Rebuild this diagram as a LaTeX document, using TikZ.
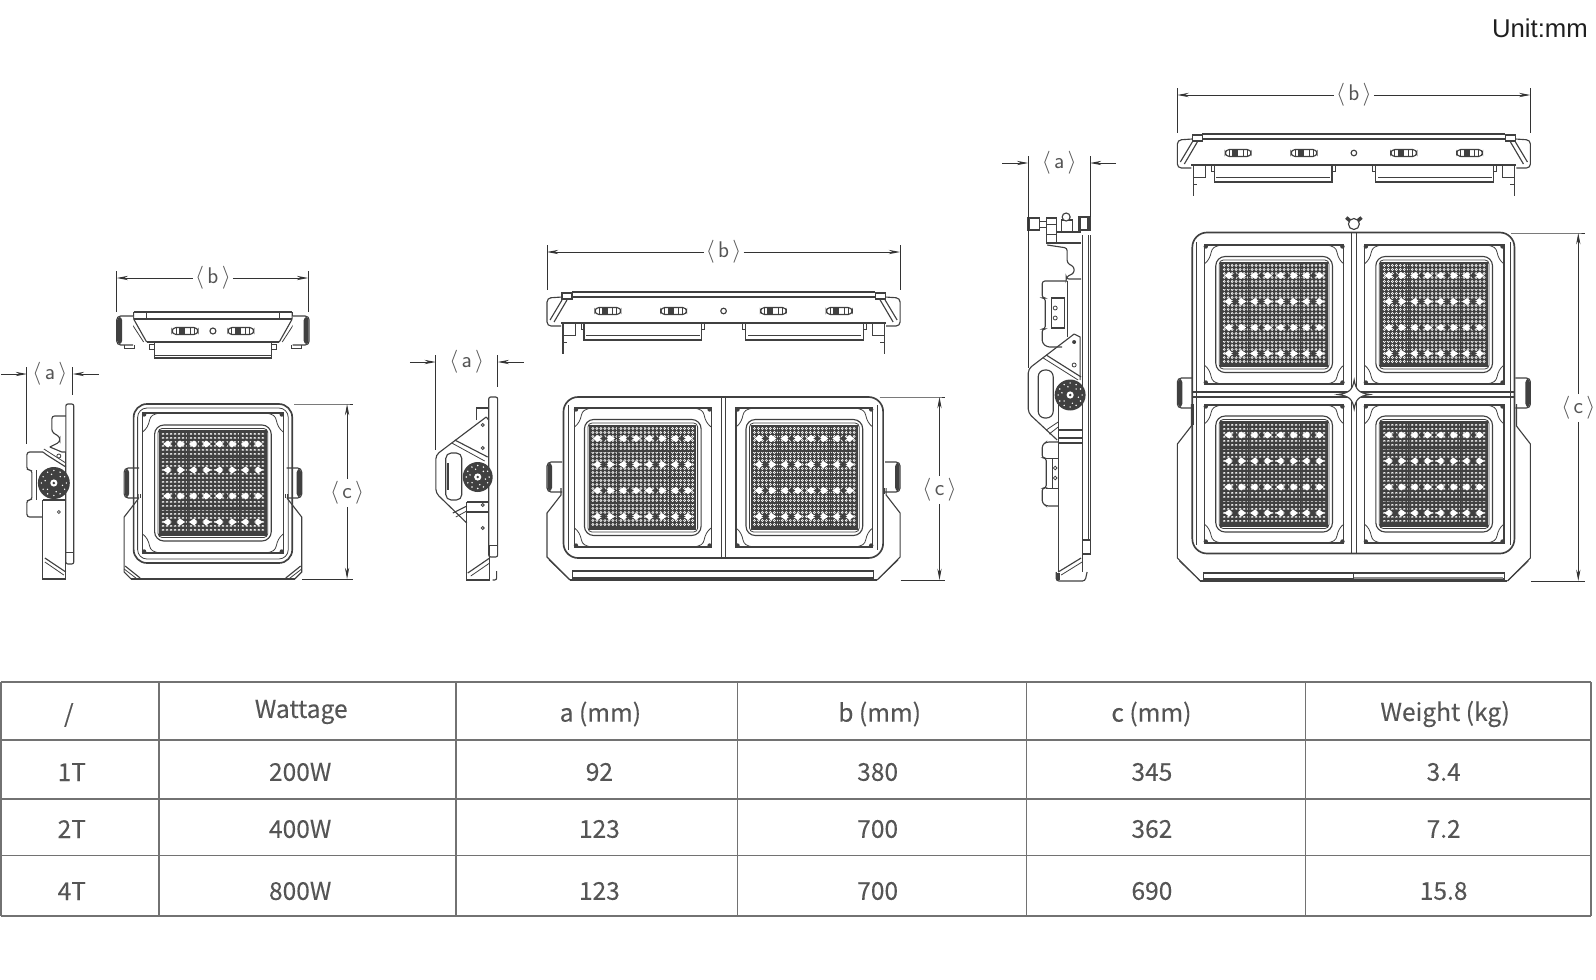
\documentclass[tikz,border=0pt]{standalone}
\usepackage{fontspec}
\usetikzlibrary{arrows.meta}
\newfontfamily\tablefont[FakeBold=0.12]{Noto Sans CJK SC}
\newfontfamily\unitfont{Liberation Sans}
\definecolor{inkcol}{HTML}{404040}
\definecolor{dimcol}{HTML}{333333}
\definecolor{rulecol}{HTML}{727272}
\definecolor{textcol}{HTML}{555555}
\newcommand{\dimtext}[1]{$\langle$\hspace{2.5pt}#1\hspace{2.5pt}$\rangle$}
\tikzset{
  body/.style={draw=inkcol,line width=0.85pt},
  fine/.style={draw=inkcol,line width=0.6pt},
  heavy/.style={draw=inkcol,line width=1.25pt},
  dimline/.style={draw=dimcol,line width=0.65pt},
  dimlabel/.style={text=textcol,font=\fontsize{17}{17}\sffamily,inner sep=1.5pt},
  cell/.style={text=textcol,font=\tablefont\fontsize{18.4}{20}\selectfont,inner sep=0pt},
  dotrow/.style={line cap=round,dash pattern=on 0.01pt off 2.982pt},
  % LED array, origin in its centre
  pics/ledarray/.style={code={
    \fill[inkcol] (-53,-52) rectangle (53,52);
    \foreach \j in {-49,-45,...,49} {
      \draw[white,line width=2.2pt,dotrow] (-50,\j) -- (50.5,\j);
      \draw[inkcol!70,line width=0.7pt,dotrow] (-50,\j) -- (50.5,\j);
    }
    \foreach \yy in {-26,0,26} {\draw[fine] (-53,\yy) -- (53,\yy);}
    \foreach \xx in {-26,0,26} {\draw[draw=inkcol,line width=0.3pt] (\xx,-52) -- (\xx,52);}
    \foreach \xx in {-39,-13,13,39} {\foreach \yy in {-39,-13,13,39} {
      \fill[white] ({\xx-11},\yy) -- ({\xx-6},{\yy-3.5}) -- ({\xx-2},\yy) -- ({\xx-6},{\yy+3.5}) -- cycle;
      \fill[white] ({\xx+11},\yy) -- ({\xx+6},{\yy-3.5}) -- ({\xx+2},\yy) -- ({\xx+6},{\yy+3.5}) -- cycle;
      \fill[inkcol] (\xx,{\yy-4}) -- ({\xx+1.2},{\yy-1.2}) -- ({\xx+4},\yy) -- ({\xx+1.2},{\yy+1.2}) -- (\xx,{\yy+4}) -- ({\xx-1.2},{\yy+1.2}) -- ({\xx-4},\yy) -- ({\xx-1.2},{\yy-1.2}) -- cycle;
    }}
    \draw[heavy] (-53,-52) rectangle (53,52);
  }},
  % recess with brackets, module frame and LED array
  pics/ledcell/.style 2 args={code={
    \draw[body] (-#1,-#2) rectangle (#1,#2);
    \foreach \sx in {-1,1} {\foreach \sy in {-1,1} {
      \fill[inkcol] ({\sx*(#1-1.5)},{\sy*(#2-1.5)}) circle (2.2);
      \draw[fine] ({\sx*(#1-18)},{\sy*#2}) .. controls ({\sx*(#1-10)},{\sy*(#2-1)}) and ({\sx*(#1-8)},{\sy*(#2-3)}) .. ({\sx*(#1-7)},{\sy*(#2-7)})
        .. controls ({\sx*(#1-6)},{\sy*(#2-12)}) and ({\sx*(#1-4)},{\sy*(#2-16)}) .. ({\sx*#1},{\sy*(#2-19)});
    }}
    \draw[body,rounded corners=7pt] (-58.5,-58) rectangle (58.5,58);
    \draw[fine,rounded corners=3pt] (-55,-54.5) rectangle (55,54.5);
    \pic {ledarray};
  }},
  % side grips, bracket edges and bottom line of a front view, origin bottom centre
  pics/fixbase/.style n args={4}{code={
    \foreach \s in {-1,1} {
      \draw[body,fill=white,rounded corners=3pt] ({\s*(#1-15)},{-#3-30}) -- ({\s*#1},{-#3-30}) -- ({\s*#1},{-#3}) -- ({\s*(#1-15)},{-#3});
      \fill[inkcol,rounded corners=2.5pt] ({\s*(#1-5)},{-#3-29}) -- ({\s*(#1-0.5)},{-#3-29}) -- ({\s*(#1-0.5)},{-#3-1}) -- ({\s*(#1-5)},{-#3-1}) -- cycle;
      \draw[body] ({\s*(#1-14)},{-#3-4}) -- ({\s*(#1-14)},{-#2-18}) -- ({\s*#1},{-#2}) -- ({\s*#1},{-#4}) -- ({\s*(#1-#4)},0);
      \draw[fine] ({\s*(#1-16)},{-#3-4}) -- ({\s*(#1-16)},{-#2-19});
    }
    \draw[body] ({-#1+#4},0) -- ({#1-#4},0);
  }},
  % wide top view shared by 2T and 4T, origin top centre
  pics/topwide/.style={code={
    \draw[heavy] (-152,0) -- (152,0);
    \draw[body] (-152,5) -- (152,5);
    \draw[body] (-163,31) -- (163,31);
    \foreach \s in {-1,1} {
      \draw[body] ({\s*162},1) rectangle ({\s*152},7);
      \draw[body,rounded corners=3pt] ({\s*162},5) -- ({\s*177},6) -- ({\s*177},34) -- ({\s*163},34);
      \draw[body] ({\s*157},8) -- ({\s*170},30);
      \draw[body] ({\s*162},8) -- ({\s*174},28);
      \draw[body] ({\s*161},31) -- ({\s*161},62);
      \draw[fine] ({\s*161},43) rectangle ({\s*149},31);
      \draw[fine] ({\s*161},50) -- ({\s*157},50);
      \draw[fine] ({\s*143},31) rectangle ({\s*140},37);
      \draw[fine] ({\s*22},31) rectangle ({\s*19},37);
      \draw[body] ({\s*140},31) -- ({\s*140},48) -- ({\s*22},48) -- ({\s*22},31);
      \draw[fine] ({\s*138},43) -- ({\s*24},43);
      \pic at ({\s*116},19) {slotmark};
      \pic at ({\s*50},19) {slotmark};
    }
    \draw[body] (0,19) circle (2.8);
  }},
  pics/slotmark/.style={code={
    \draw[body,rounded corners=3pt] (-13,-3.5) rectangle (13,3.5);
    \fill[inkcol] (-6,-3) rectangle (0,3);
    \draw[fine] (-9,-3) -- (-9,3) (5,-3) -- (5,3) (9,-3) -- (9,3);
  }},
  % adjusting wheel of the side views
  pics/knob/.style={code={
    \fill[inkcol] (0,0) circle (#1);
    \foreach \a in {0,30,...,330} {\fill[white] (\a:{#1-3.5}) circle (0.8);}
    \foreach \a in {15,75,...,345} {\fill[white] (\a:{#1-7}) circle (0.8);}
    \fill[white] (0,0) circle (3.6);
    \fill[inkcol] (0,0) circle (1.4);
  }},
}
\begin{document}
\begin{tikzpicture}[x=0.748pt,y=-0.75pt,>={Stealth[length=8.5pt,width=3.2pt]}]
\useasboundingbox (0,0) rectangle (1600.27,979);

\node[text=black!88,font=\unitfont\fontsize{19.3}{19}\selectfont,inner sep=0pt] (unit) at (1544,28) {Unit:mm};

% --- 1T: side view ---
\draw[body,rounded corners=1.5pt] (66,404) rectangle (74,564);
\draw[fine] (66,552) -- (74,552);
\draw[body,rounded corners=2pt] (66,416) -- (52,416) -- (52,432) -- (60,437) -- (60,442) -- (50,447);
\draw[body] (50,447) -- (62,452) -- (66,452);
\fill[white] (59,456) circle (2);
\draw[fine] (59,456) circle (2);
\draw[body,rounded corners=2pt] (43,452) -- (27,452) -- (27,470) -- (32,470) -- (32,500) -- (27,500) -- (27,517) -- (43,517);
\draw[body] (43,452) -- (47,455) -- (66,467);
\draw[fine] (44,449) -- (66,463);
\draw[fine] (36,470) -- (36,500);
\draw[body] (43,500) -- (43,579) -- (66,579) -- (66,452);
\draw[body] (43,500) -- (66,500);
\draw[body] (45,558) -- (66,572);
\draw[fine] (45,562) -- (64,575);
\draw[fine] (59,512) circle (1.5);
\pic at (54,483) {knob=16};

% --- 1T: top view ---
\begin{scope}[shift={(213.5,0)}]
\draw[body] (-79.5,312) -- (79.5,312);
\draw[body] (-79.5,319) -- (79.5,319);
\draw[body] (-66.5,342) -- (66.5,342);
\foreach \s in {-1,1} {
  \draw[body] ({\s*79.5},312) -- ({\s*79.5},319) -- ({\s*66.5},342);
  \draw[fine] ({\s*82.5},322) -- ({\s*69.5},342);
  \draw[fine] ({\s*67},312) -- ({\s*67},319);
  \draw[body,fill=white,rounded corners=3pt] ({\s*80},316) -- ({\s*96.5},316) -- ({\s*96.5},345) -- ({\s*80},345);
  \fill[inkcol,rounded corners=2.5pt] ({\s*91},317) rectangle ({\s*96},344);
  \draw[fine] ({\s*89},345) -- ({\s*89},348) -- ({\s*79},348) -- ({\s*79},345);
  \draw[fine] ({\s*63.5},344) rectangle ({\s*59},349);
  \pic at ({\s*28},331) {slotmark};
}
\draw[body] (-59,342) -- (-59,358) -- (59,358) -- (59,342);
\draw[fine] (-59,355) -- (59,355);
\draw[body] (0,331) circle (3);
\end{scope}

% --- 1T: front view ---
\begin{scope}[shift={(1,0)}]
\pic at (212.5,579) {fixbase={89}{62}{81}{7}};
\draw[heavy,rounded corners=10pt] (133,404) rectangle (292,563);
\draw[fine,rounded corners=7pt] (137,408) rectangle (288,559);
\pic at (212.5,483) {ledcell={70.5}{70}};
\foreach \s in {-1,1} {
  \draw[body] ({212.5+\s*73},578) -- ({212.5+\s*88},566);
  \draw[fine] ({212.5+\s*76},579) -- ({212.5+\s*89},569);
}
\end{scope}

% --- 2T: side view ---
\begin{scope}[shift={(2,0)}]
\draw[body,rounded corners=1.5pt] (488,397) rectangle (497,557);
\draw[fine] (488,545) -- (497,545);
\draw[body] (476,420) -- (476,408) -- (488,408);
\draw[body,rounded corners=3pt] (485.5,417) -- (435,455) -- (435,493) -- (466,523);
\draw[body] (485.5,417) -- (488,420);
\draw[body] (454,440) -- (487,457);
\draw[fine] (451,443) -- (484,461);
\draw[body] (452,513) -- (466,506);
\draw[fine] (455,517) -- (466,511);
\draw[body,rounded corners=4pt] (445,453) rectangle (461,500);
\fill[inkcol] (446,463) rectangle (448,490);
\draw[body] (466,502) -- (466,580) -- (489,580) -- (489,545);
\draw[body] (466,502) -- (488,502);
\draw[body] (466,512) -- (488,512);
\draw[body] (467,573) -- (489,558);
\draw[fine] (470,576) -- (489,563);
\draw[body,rounded corners=1.5pt] (492,580) -- (496,580) -- (496,571);
\foreach \yy in {425,448,505,528} {\draw[fine] (482,\yy) circle (1.5);}
\pic at (477,477) {knob=15};
\end{scope}

% --- 2T: top view ---
\pic at (725.5,292) {topwide};

% --- 2T: front view ---
\pic at (725.5,580) {fixbase={177}{67}{88}{23}};
\draw[heavy,rounded corners=11pt] (565,397) rectangle (885.5,558);
\draw[fine] (570,405) -- (570,550) (880,405) -- (880,550);
\draw[body] (723,397) -- (723,558) (727,397) -- (727,558);
\pic at (644.5,477.5) {ledcell={68.5}{69.5}};
\pic at (806.5,477.5) {ledcell={68.5}{69.5}};
\draw[body] (574,571) rectangle (876,578);
\foreach \s in {-1,1} {
  \draw[fine] ({725.5+\s*175},{557+3}) -- ({725.5+\s*155},579);
}

% --- 4T: side view ---
\begin{scope}[shift={(2,0)}]
\draw[body] (1083,235) -- (1083,540) (1089,235) -- (1089,540) (1091,235) -- (1091,554);
\draw[body] (1083,540) rectangle (1091,554);
\draw[body,fill=white] (1028,218) rectangle (1040,230);
\fill[inkcol] (1028,218) rectangle (1031,230);
\draw[fine] (1040,221) -- (1047,221) (1040,227) -- (1047,227);
\draw[body,fill=white] (1047,218) rectangle (1057,243);
\draw[fine] (1047,224) -- (1057,224) (1047,234) -- (1057,234);
\draw[body,fill=white] (1062,220) rectangle (1073,232);
\draw[body,fill=white] (1067,217) circle (4);
\draw[body,fill=white] (1079,217) rectangle (1091,230);
\fill[inkcol] (1079,217) rectangle (1082,230);
\fill[inkcol] (1088,217) rectangle (1091,230);
\draw[body] (1057,232) -- (1082,232);
\draw[body,rounded corners=2pt] (1048,245) -- (1068,248) -- (1068,263) -- (1075,267) -- (1075,273) -- (1067,277) -- (1067,279) -- (1082,279);
\draw[body] (1057,243) -- (1082,243);
\draw[body,rounded corners=2pt] (1068,281) -- (1043,281) -- (1043,298) -- (1046,298) -- (1046,329) -- (1043,329) -- (1043,343) -- (1048,347) -- (1063,347);
\draw[body] (1052,298) rectangle (1065,328);
\draw[body] (1068,281) -- (1068,337);
\draw[fine] (1056,308) circle (2) (1056,318) circle (2);
\draw[body,rounded corners=3pt] (1075,334) -- (1029,369) -- (1029,413) -- (1058,440);
\draw[body] (1075,334) -- (1081,337) -- (1081,380);
\draw[body] (1047,355) -- (1082,377);
\draw[fine] (1044,358) -- (1079,380);
\fill[inkcol] (1075,342) circle (2);
\draw[fine] (1075,365) circle (2);
\draw[body,rounded corners=5pt] (1039,370) rectangle (1054,418);
\draw[fine] (1047,430) -- (1059,422) (1050,434) -- (1059,427);
\draw[body] (1059,402) -- (1059,572);
\draw[body] (1059,430) -- (1083,430) (1059,438) -- (1083,438) (1059,443) -- (1083,443);
\draw[body,rounded corners=2pt] (1059,442) -- (1047,442) -- (1043,445) -- (1043,458) -- (1047,458) -- (1047,488) -- (1043,488) -- (1043,503) -- (1047,506) -- (1059,506);
\draw[fine] (1053,458) -- (1053,488) (1047,458) -- (1059,458) (1047,488) -- (1059,488);
\draw[fine] (1056,468) circle (1.8) (1056,478) circle (1.8);
\draw[body] (1083,554) -- (1083,572);
\draw[body] (1059,572) -- (1082,558);
\draw[fine] (1062,575) -- (1083,562);
\draw[body,rounded corners=2pt] (1057,572) -- (1057,581) -- (1086,581) -- (1088,572);
\fill[inkcol] (1058,573) rectangle (1061,580);
\pic at (1071,395) {knob=15.5};
\end{scope}

\begin{scope}[shift={(2.5,0)}]
% --- 4T: top view ---
\pic at (1355,134) {topwide};

% --- 4T: front view ---
\pic at (1355,581) {fixbase={177}{137}{173}{23}};
\draw[heavy,rounded corners=11pt] (1193,232.5) rectangle (1516,553.5);
\draw[fine] (1197,242) -- (1197,545) (1512,242) -- (1512,545);
\draw[body] (1352.5,232.5) -- (1352.5,553.5) (1358,232.5) -- (1358,553.5);
\draw[body] (1193,392) -- (1516,392) (1193,397) -- (1516,397);
\pic at (1275,314.5) {ledcell={70}{69.5}};
\pic at (1435.5,314.5) {ledcell={70}{69.5}};
\pic at (1275,474) {ledcell={70}{69}};
\pic at (1435.5,474) {ledcell={70}{69}};
\draw[body,fill=white] (1355.3,380) .. controls (1357,390) and (1360,393) .. (1371,394.5) .. controls (1360,396) and (1357,399) .. (1355.3,409)
  .. controls (1353.5,399) and (1350.5,396) .. (1339,394.5) .. controls (1350.5,393) and (1353.5,390) .. (1355.3,380) -- cycle;
\draw[body] (1204,573) rectangle (1506,579);
\draw[body] (1355,573) -- (1355,579);
\fill[inkcol!60] (1355,576.5) rectangle (1505,579);
\foreach \s in {-1,1} {
  \draw[fine] ({1355+\s*175},{558+3}) -- ({1355+\s*155},580);
}
% lamp connector on the top edge
\foreach \a in {-40,220} {\draw[draw=inkcol,line width=2.6pt] (1355,224) ++(\a:5) -- ++(\a:5);}
\draw[body,fill=white] (1355,224) circle (5.5);
\end{scope}

% --- dimensions ---
\node[dimlabel] (bone) at (213.5,278) {\dimtext{b}};
\coordinate (bonel) at (117,278);
\coordinate (boner) at (309,278);
\draw[dimline,->] (bone) -- (bonel);
\draw[dimline,->] (bone) -- (boner);
\draw[dimline] (bonel) ++(0,-7) -- ++(0,41);
\draw[dimline] (boner) ++(0,-7) -- ++(0,41);

\node[dimlabel] (aone) at (50,374) {\dimtext{a}};
\coordinate (aonel) at (27,374);
\coordinate (aoner) at (73,374);
\coordinate (aonelo) at (1,374);
\coordinate (aonero) at (99,374);
\draw[dimline,->] (aonelo) -- (aonel);
\draw[dimline,->] (aonero) -- (aoner);
\draw[dimline] (aonel) ++(0,-7) -- ++(0,77);
\draw[dimline] (aoner) ++(0,-7) -- ++(0,28);

\node[dimlabel] (cone) at (348,493) {\dimtext{c}};
\coordinate (conet) at (348,404);
\coordinate (coneb) at (348,579);
\draw[dimline,->] (cone) -- (conet);
\draw[dimline,->] (cone) -- (coneb);
\draw[dimline] (295,404) -- (conet) -- ++(6,0);
\draw[dimline] (303,579) -- (coneb) -- ++(6,0);

\node[dimlabel] (btwo) at (725.5,252) {\dimtext{b}};
\coordinate (btwol) at (548.5,252);
\coordinate (btwor) at (902.5,252);
\draw[dimline,->] (btwo) -- (btwol);
\draw[dimline,->] (btwo) -- (btwor);
\draw[dimline] (btwol) ++(0,-7) -- ++(0,45);
\draw[dimline] (btwor) ++(0,-7) -- ++(0,45);

\node[dimlabel] (atwo) at (468,362) {\dimtext{a}};
\coordinate (atwol) at (437,362);
\coordinate (atwor) at (499,362);
\coordinate (atwolo) at (411,362);
\coordinate (atworo) at (525,362);
\draw[dimline,->] (atwolo) -- (atwol);
\draw[dimline,->] (atworo) -- (atwor);
\draw[dimline] (atwol) ++(0,-7) -- ++(0,95);
\draw[dimline] (atwor) ++(0,-7) -- ++(0,32);

\node[dimlabel] (ctwo) at (942,490) {\dimtext{c}};
\coordinate (ctwot) at (942,397);
\coordinate (ctwob) at (942,580);
\draw[dimline,->] (ctwo) -- (ctwot);
\draw[dimline,->] (ctwo) -- (ctwob);
\draw[dimline] (882,397) -- (ctwot) -- ++(6,0);
\draw[dimline] (903,580) -- (ctwob) -- ++(6,0);

\node[dimlabel] (bfour) at (1357.5,95) {\dimtext{b}};
\coordinate (bfourl) at (1180.5,95);
\coordinate (bfourr) at (1534.5,95);
\draw[dimline,->] (bfour) -- (bfourl);
\draw[dimline,->] (bfour) -- (bfourr);
\draw[dimline] (bfourl) ++(0,-7) -- ++(0,45);
\draw[dimline] (bfourr) ++(0,-7) -- ++(0,45);

\node[dimlabel] (afour) at (1062,163) {\dimtext{a}};
\coordinate (afourl) at (1031,163);
\coordinate (afourr) at (1093,163);
\coordinate (afourlo) at (1005,163);
\coordinate (afourro) at (1119,163);
\draw[dimline,->] (afourlo) -- (afourl);
\draw[dimline,->] (afourro) -- (afourr);
\draw[dimline] (afourl) ++(0,-7) -- ++(0,212);
\draw[dimline] (afourr) ++(0,-7) -- ++(0,61);

\node[dimlabel] (cfour) at (1582.5,408) {\dimtext{c}};
\coordinate (cfourt) at (1582.5,233);
\coordinate (cfourb) at (1582.5,581);
\draw[dimline,->] (cfour) -- (cfourt);
\draw[dimline,->] (cfour) -- (cfourb);
\draw[dimline] (1515,233) -- (cfourt) -- ++(7,0);
\draw[dimline] (1535.5,581) -- (cfourb) -- ++(7,0);

% --- table ---
\foreach \yy in {682,740,799,855.5,916} {\draw[rulecol,line width=1.15pt] (1,\yy) -- (1595,\yy);}
\foreach \xx in {1,159.5,457,739.5,1029,1309,1595} {\draw[rulecol,line width=1.15pt] (\xx,682) -- (\xx,916);}

\node[cell] (hslash) at (69,715) {/};
\node[cell] (hwatt) at (302,712) {Wattage};
\node[cell] (ha) at (602,714) {a (mm)};
\node[cell] (hb) at (882,714) {b (mm)};
\node[cell] (hc) at (1154.5,714) {c (mm)};
\node[cell] (hw) at (1449,714) {Weight (kg)};

\foreach \rr/\yy/\nm/\ww/\aa/\bb/\cc/\kg in {one/772/1T/200W/92/380/345/3.4,two/829/2T/400W/123/700/362/7.2,four/891/4T/800W/123/700/690/15.8} {
  \node[cell] (n\rr) at (72,\yy) {\nm};
  \node[cell] (w\rr) at (301,\yy) {\ww};
  \node[cell] (a\rr) at (601,\yy) {\aa};
  \node[cell] (b\rr) at (880,\yy) {\bb};
  \node[cell] (c\rr) at (1155,\yy) {\cc};
  \node[cell] (k\rr) at (1447.5,\yy) {\kg};
}

\end{tikzpicture}
\end{document}
